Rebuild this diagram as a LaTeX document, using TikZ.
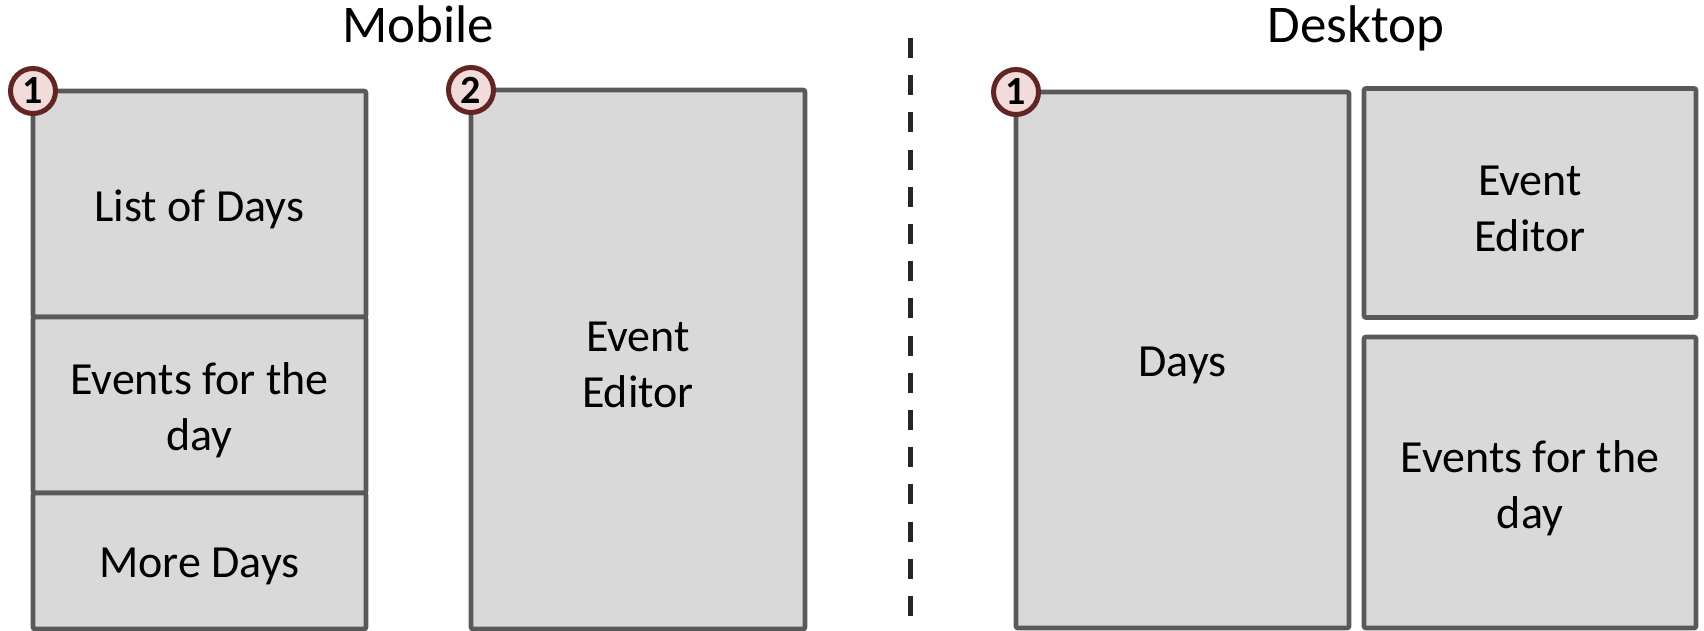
\documentclass[tikz,border=0pt]{standalone}
\usepackage{fontspec}
\setmainfont{Carlito}
\definecolor{boxfill}{HTML}{D9D9D9}
\definecolor{boxline}{HTML}{595959}
\definecolor{badgefill}{HTML}{F2DCDB}
\definecolor{badgeline}{HTML}{632523}
\begin{document}
\begin{tikzpicture}[x=1pt,y=-1pt,
  panel/.style={draw=boxline, fill=boxfill, line width=4.7pt, rounded corners=2pt,
    inner sep=0pt, outer sep=0pt},
  lbl/.style={align=center, inner sep=0pt, font=\fontsize{46}{56}\selectfont},
  badge/.style={circle, draw=badgeline, fill=badgefill, line width=5pt,
    minimum size=45pt, inner sep=0pt, font=\bfseries\fontsize{40}{40}\selectfont},
  title/.style={font=\fontsize{53}{60}\selectfont, inner sep=0pt, anchor=base}]
\useasboundingbox (0,0) rectangle (1704,631);
% Mobile
\node[title] (tm) at (418,43) {Mobile};
\node[panel, minimum width=333pt, minimum height=226pt] (m1a) at (199.5,204) {};
\node[panel, minimum width=333pt, minimum height=176pt] (m1b) at (199.5,405) {};
\node[panel, minimum width=333pt, minimum height=136pt] (m1c) at (199.5,561) {};
\node[panel, minimum width=334pt, minimum height=539pt] (m2) at (638,359.5) {};
\node[lbl] (l1) at ([yshift=-5.5pt]m1a.center) {List of Days};
\node[lbl] (l2) at ([yshift=-5.5pt]m1b.center) {Events for the\\day};
\node[lbl] (l3) at ([yshift=-5.5pt]m1c.center) {More Days};
\node[lbl] (l4) at ([yshift=-5.5pt]m2.center) {Event\\Editor};
% divider
\coordinate (s1) at (910,38);
\coordinate (s2) at (910,618);
\draw[line width=5pt, draw=black!85, dash pattern=on 20pt off 17.2pt] (s1) -- (s2);
% Desktop
\node[title] (td) at (1356,43) {Desktop};
\node[panel, minimum width=333pt, minimum height=536pt] (d1) at (1182.5,360) {};
\node[panel, minimum width=332pt, minimum height=229pt] (d2) at (1530,203) {};
\node[panel, minimum width=332pt, minimum height=291pt] (d3) at (1530,482.5) {};
\node[lbl] (l5) at ([yshift=-5.5pt]d1.center) {Days};
\node[lbl] (l6) at ([yshift=-5.5pt]d2.center) {Event\\Editor};
\node[lbl] (l7) at ([yshift=-5.5pt]d3.center) {Events for the\\day};
% badges
\node[badge] (b1) at (m1a.north west) {1};
\node[badge] (b2) at (m2.north west) {2};
\node[badge] (b3) at (d1.north west) {1};
\end{tikzpicture}
\end{document}
